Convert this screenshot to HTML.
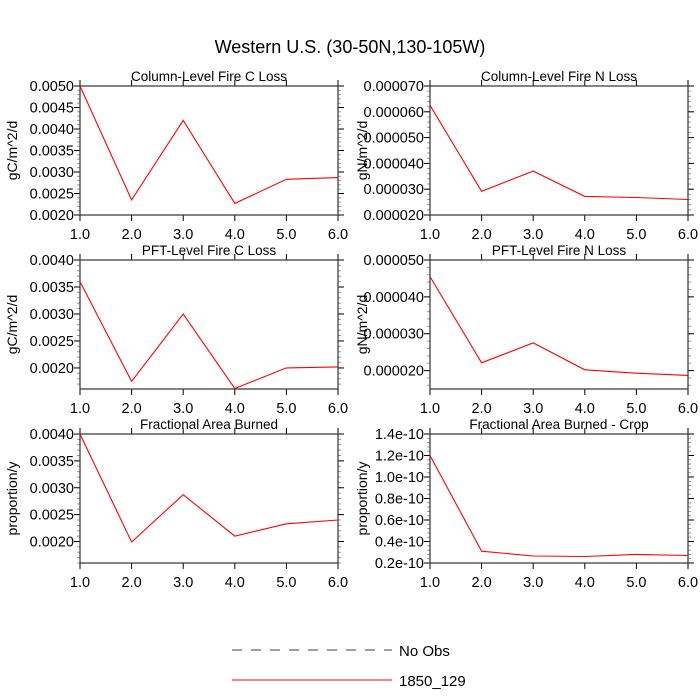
<!DOCTYPE html>
<html><head><meta charset="utf-8"><style>
body{margin:0;background:#fff;}
svg{display:block;font-family:"Liberation Sans",sans-serif;}
</style></head><body>
<svg id="c" width="700" height="700">
<text x="350" y="53" font-size="18" text-anchor="middle">Western U.S. (30-50N,130-105W)</text>
<g>
<line x1="232" y1="650" x2="392" y2="650" stroke="#000" stroke-width="0.8" stroke-dasharray="10,9"/>
<text x="399" y="656" font-size="15">No Obs</text>
<line x1="232" y1="680" x2="392" y2="680" stroke="#f00" stroke-width="1"/>
<text x="399" y="686" font-size="15">1850_129</text>
</g>
</svg>
<script>
const xCats=[1,2,3,4,5,6];
const xTickLabels=["1.0","2.0","3.0","4.0","5.0","6.0"];
const titles=["Column-Level Fire C Loss","Column-Level Fire N Loss","PFT-Level Fire C Loss","PFT-Level Fire N Loss","Fractional Area Burned","Fractional Area Burned - Crop"];
const yTitles=["gC/m^2/d","gN/m^2/d","gC/m^2/d","gN/m^2/d","proportion/y","proportion/y"];
const s1=[0.0050,0.00235,0.0042,0.00227,0.00283,0.00287];
const s2=[0.0000625,0.0000292,0.000037,0.0000272,0.0000268,0.000026];
const s3=[0.0036,0.00175,0.0030,0.00162,0.0020,0.00202];
const s4=[0.0000455,0.0000221,0.0000275,0.0000202,0.0000193,0.0000187];
const s5=[0.0040,0.00199,0.00287,0.0021,0.00233,0.0024];
const s6=[1.2e-10,0.31e-10,0.265e-10,0.26e-10,0.28e-10,0.27e-10];
const yMins=[0.0020,0.000020,0.00161,0.0000150,0.00160,0.2e-10];
const yMaxs=[0.0050,0.000070,0.0040,0.000050,0.0040,1.4e-10];
const yTickVals1=[0.002,0.0025,0.003,0.0035,0.004,0.0045,0.005];
const yTickLab1=["0.0020","0.0025","0.0030","0.0035","0.0040","0.0045","0.0050"];
const yTickVals2=[0.00002,0.00003,0.00004,0.00005,0.00006,0.00007];
const yTickLab2=["0.000020","0.000030","0.000040","0.000050","0.000060","0.000070"];
const yTickVals3=[0.002,0.0025,0.003,0.0035,0.004];
const yTickLab3=["0.0020","0.0025","0.0030","0.0035","0.0040"];
const yTickVals4=[0.00002,0.00003,0.00004,0.00005];
const yTickLab4=["0.000020","0.000030","0.000040","0.000050"];
const yTickVals5=[0.002,0.0025,0.003,0.0035,0.004];
const yTickLab5=["0.0020","0.0025","0.0030","0.0035","0.0040"];
const yTickVals6=[0.2e-10,0.4e-10,0.6e-10,0.8e-10,1.0e-10,1.2e-10,1.4e-10];
const yTickLab6=["0.2e-10","0.4e-10","0.6e-10","0.8e-10","1.0e-10","1.2e-10","1.4e-10"];
const series=[s1,s2,s3,s4,s5,s6];
const yTickVals=[yTickVals1,yTickVals2,yTickVals3,yTickVals4,yTickVals5,yTickVals6];
const yTickLabs=[yTickLab1,yTickLab2,yTickLab3,yTickLab4,yTickLab5,yTickLab6];
const minorSteps=[0.0001,0.000002,0.0001,0.000002,0.0001,0.04e-10];

const NS="http://www.w3.org/2000/svg";
const svg=document.getElementById('c');
function mk(tag,attrs,parent){const e=document.createElementNS(NS,tag);for(const k in attrs)e.setAttribute(k,attrs[k]);parent.appendChild(e);return e;}
const lefts=[80,430], tops=[86,260,434], W=258, H=129;
for(let p=0;p<6;p++){
  const L=lefts[p%2], T=tops[Math.floor(p/2)], R=L+W, B=T+H;
  const g=mk('g',{},svg);
  
  
  const xs=v=>L+(v-1)/5*W;
  const ys=v=>B-(v-yMins[p])/(yMaxs[p]-yMins[p])*H;
  const st=minorSteps[p];
  for(let k=Math.ceil(yMins[p]/st-1e-6);k*st<=yMaxs[p]*(1+1e-9);k++){
    const y=ys(k*st);
    mk('line',{x1:L-3,x2:L,y1:y,y2:y,stroke:'#999','stroke-width':1},g);
    mk('line',{x1:R,x2:R+3,y1:y,y2:y,stroke:'#999','stroke-width':1},g);
  }
  yTickVals[p].forEach((v,i)=>{
    const y=ys(v);
    mk('line',{x1:L-6,x2:L,y1:y,y2:y,stroke:'#000','stroke-width':1},g);
    mk('line',{x1:R,x2:R+6,y1:y,y2:y,stroke:'#000','stroke-width':1},g);
    const t=mk('text',{x:L-6,y:y+5,'font-size':14.5,'text-anchor':'end'},g);
    
    
    t.textContent=yTickLabs[p][i];
  });
  xCats.forEach((c,i)=>{
    const x=xs(c);
    mk('line',{x1:x,x2:x,y1:B,y2:B+6,stroke:'#000','stroke-width':1},g);
    mk('line',{x1:x,x2:x,y1:T-6,y2:T,stroke:'#000','stroke-width':1},g);
    const t=mk('text',{x:x,y:B+24,'font-size':14.5,'text-anchor':'middle'},g);
    
    
    t.textContent=xTickLabels[i];
  });
  const fr=mk('rect',{x:L,y:T,width:W,height:H,fill:'none',stroke:'#333','stroke-width':1.2},g);
  
  
  const tt=mk('text',{x:L+W/2,y:T-5,'font-size':13.5,'text-anchor':'middle'},g);
  
  
  tt.textContent=titles[p];
  const yt=mk('text',{x:0,y:0,'font-size':14,'text-anchor':'middle',transform:`translate(${L-63},${T+H/2}) rotate(-90)`},g);
  
  
  yt.textContent=yTitles[p];
  const pts=series[p].map((v,i)=>xs(xCats[i]).toFixed(1)+','+ys(v).toFixed(1)).join(' ');
  const pl=mk('polyline',{points:pts,fill:'none',stroke:'#f00','stroke-width':1.1},g);
  
  
}
</script>
</body></html>
